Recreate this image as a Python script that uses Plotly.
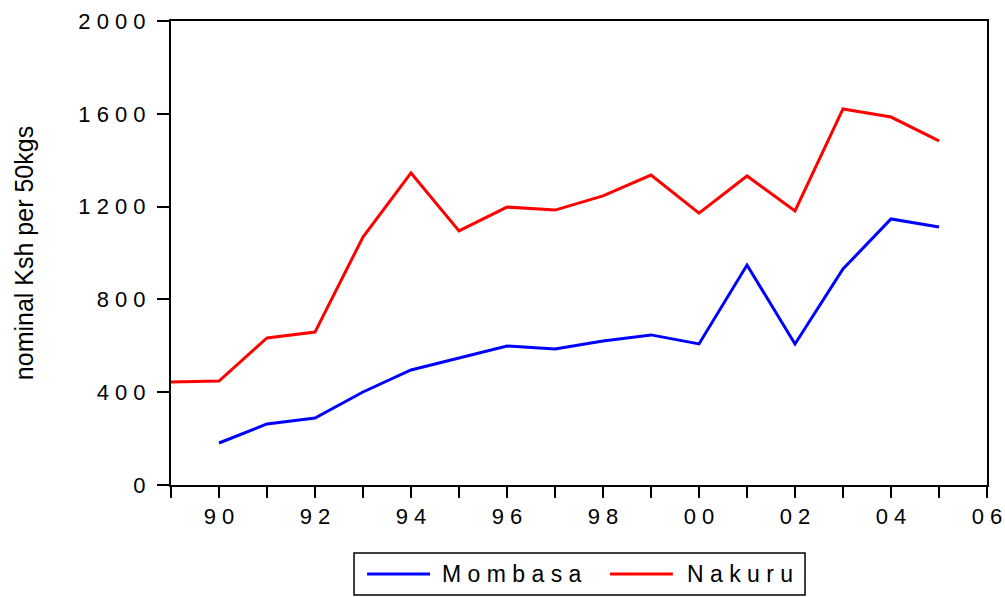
import plotly.graph_objects as go

years_nakuru = list(range(1989, 2006))
nakuru = [444, 448, 634, 659, 1069, 1345, 1095, 1198, 1185, 1246, 1336, 1172, 1332, 1181, 1621, 1586, 1483]
years_mombasa = list(range(1990, 2006))
mombasa = [181, 263, 289, 401, 496, 547, 599, 586, 621, 647, 608, 948, 608, 931, 1147, 1112]
series_names = ["Mombasa", "Nakuru"]
series_colors = ["#0000ff", "#ff0000"]

x_tickvals = list(range(1989, 2007))
x_ticktext = ["" if y % 2 else " ".join(str(y)[-2:]) for y in x_tickvals]
y_tickvals = [0, 400, 800, 1200, 1600, 2000]
y_ticktext = [" ".join(str(v)) for v in y_tickvals]

FONT = "Liberation Sans, Arial, sans-serif"

fig = go.Figure()
fig.add_trace(go.Scatter(x=years_mombasa, y=mombasa, mode="lines", name=series_names[0],
                         line=dict(color=series_colors[0], width=3)))
fig.add_trace(go.Scatter(x=years_nakuru, y=nakuru, mode="lines", name=series_names[1],
                         line=dict(color=series_colors[1], width=3)))

# custom legend (paper coordinates)
fig.add_shape(type="rect", xref="paper", yref="paper", x0=0.2243, x1=0.777, y0=-0.237, y1=-0.1466,
              line=dict(color="black", width=1.5), fillcolor="white")
legend_items = [(0.2403, 0.3174, 0.3297), (0.538, 0.615, 0.630)]
for (lx0, lx1, tx), name, col in zip(legend_items, series_names, series_colors):
    fig.add_shape(type="line", xref="paper", yref="paper", x0=lx0, x1=lx1, y0=-0.1918, y1=-0.1918,
                  line=dict(color=col, width=3))
    fig.add_annotation(xref="paper", yref="paper", x=tx, y=-0.1918, xanchor="left", yanchor="middle",
                       text=" ".join(name), showarrow=False, font=dict(size=23, family=FONT))

fig.update_layout(
    width=1005, height=597,
    margin=dict(l=171, r=18, t=21, b=112),
    paper_bgcolor="white", plot_bgcolor="white",
    font=dict(family=FONT, size=22, color="black"),
    showlegend=False,
    xaxis=dict(range=[1989, 2006], tickmode="array", tickvals=x_tickvals, ticktext=x_ticktext,
               ticks="outside", ticklen=11, tickwidth=2, tickcolor="black",
               showline=True, linecolor="black", linewidth=2, mirror=True,
               showgrid=False, zeroline=False, automargin=False),
    yaxis=dict(range=[0, 2000], tickmode="array", tickvals=y_tickvals, ticktext=y_ticktext,
               ticks="outside", ticklen=12, tickwidth=2, tickcolor="black",
               showline=True, linecolor="black", linewidth=2, mirror=True,
               showgrid=False, zeroline=False, automargin=False, ticklabelstandoff=7,
               title=dict(text="nominal Ksh per 50kgs", font=dict(size=25), standoff=38)),
)

fig.write_html("out.html", config={"displayModeBar": False},
               post_script="document.body.style.margin='0px';")
